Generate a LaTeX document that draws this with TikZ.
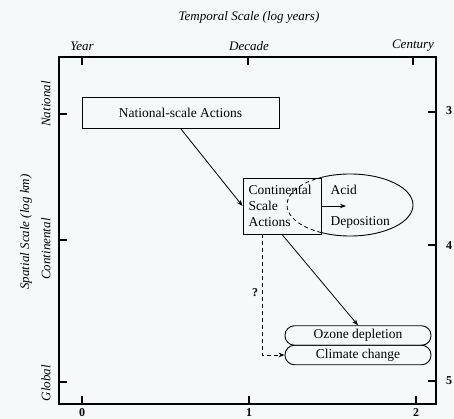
\documentclass[tikz,border=0pt]{standalone}
\usepackage{fontspec}
\setmainfont{Liberation Serif}
\usetikzlibrary{arrows.meta,calc}
\definecolor{bg}{RGB}{244,250,250}
\begin{document}
\begin{tikzpicture}[x=1pt,y=-1pt,
  axis/.style={line width=1.1pt},
  tick/.style={line width=1.1pt},
  boxst/.style={draw,line width=0.9pt,inner sep=0pt},
  conn/.style={line width=0.8pt,-{Stealth[length=6pt,width=4.5pt]}},
  lab/.style={font=\fontsize{13}{15}\selectfont\itshape},
  txt/.style={font=\fontsize{13.5}{16}\selectfont},
  num/.style={font=\fontsize{12}{14}\selectfont\bfseries}]
\fill[bg] (0,0) rectangle (454,419);
\useasboundingbox (0,0) rectangle (454,419);
% frame
\draw[axis] (59,57) rectangle (436,404);
% ticks
\foreach \x in {82,248,413} \draw[tick] (\x,57) -- (\x,65);
\foreach \x in {82,249,416} \draw[tick] (\x,404) -- (\x,396);
\foreach \y in {114,240,382} \draw[tick] (59,\y) -- (67,\y);
\foreach \y in {112,245,381} \draw[tick] (436,\y) -- (428,\y);
% labels
\node[lab] (ttl) at (249,17) {Temporal Scale (log years)};
\node[lab] (yr) at (82,46) {Year};
\node[lab] (dec) at (249,46) {Decade};
\node[lab] (cen) at (413,46) {Century};
\node[lab,rotate=90] (spat) at (26,232) {Spatial Scale (log km)};
\node[lab,rotate=90] (natl) at (46,104) {National};
\node[lab,rotate=90] (contl) at (46,249) {Continental};
\node[lab,rotate=90] (glob) at (46,383) {Global};
\node[num] (n0) at (82,413) {0};
\node[num] (n1) at (249,413) {1};
\node[num] (n2) at (416,413) {2};
\node[num] (n3) at (449,111) {3};
\node[num] (n4) at (449,246) {4};
\node[num] (n5) at (449,381) {5};
% boxes
\node[boxst,txt,minimum width=197pt,minimum height=31pt] (nat) at (180.5,112.5) {National-scale Actions};
\node[boxst,minimum width=78pt,minimum height=56pt] (cont) at (282,206) {};
% ellipse: dashed inside box, solid outside
\begin{scope}
\clip (cont.north west) rectangle (cont.south east);
\draw[line width=0.8pt,dash pattern=on 4pt off 3pt] (350,205) ellipse [x radius=63, y radius=31];
\end{scope}
\begin{scope}
\clip (cont.east |- 0,160) rectangle (440,250);
\draw[line width=0.9pt] (350,205) ellipse [x radius=63, y radius=31];
\end{scope}
\node[txt,anchor=west,align=left,font=\fontsize{13.5}{16}\selectfont] (conttxt) at (245,206) {Continental\\Scale\\Actions};
\node[txt,anchor=west] (acid) at (327,190) {Acid};
\node[txt,anchor=west] (depo) at (327,222) {Deposition};
\coordinate (acidtip) at (346,206);
\draw[conn] (cont.east) -- (acidtip);
\node[boxst,txt,rounded corners=9.5pt,minimum width=146pt,minimum height=19.5pt] (ozone) at (358,335.5) {Ozone depletion};
\node[boxst,txt,rounded corners=9.5pt,minimum width=146pt,minimum height=19.5pt] (climate) at (358,355) {Climate change};
% connectors
\draw[conn] (nat.south) -- (cont.west);
\draw[conn] (cont.south) -- (ozone.north);
\draw[conn,dash pattern=on 4pt off 3pt] ([xshift=-20pt]cont.south) |- (climate.west);
\node[font=\fontsize{12}{14}\selectfont\bfseries] (q) at (255,293) {?};
\end{tikzpicture}
\end{document}
